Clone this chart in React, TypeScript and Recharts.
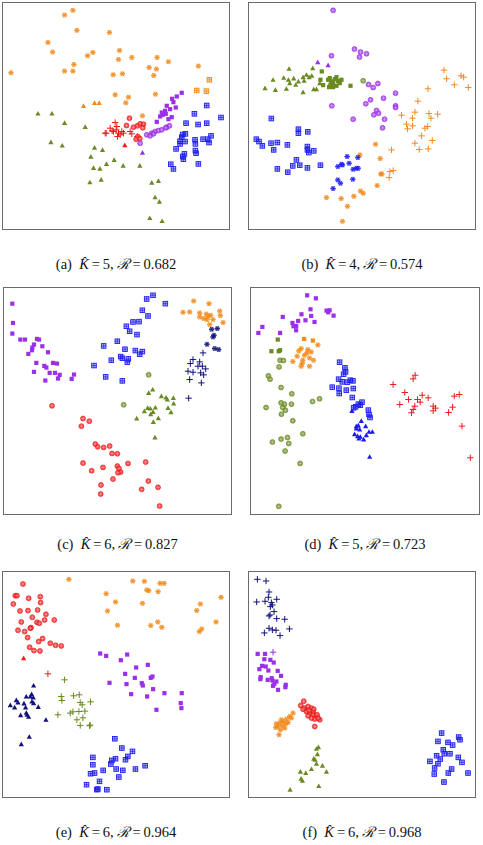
import React from 'react';
import { ScatterChart, Scatter, XAxis, YAxis } from 'recharts';

type P = [number, number];

const ORANGE = '#f28a1c';
const RED = '#ee1c1c';
const PURPLE = '#9b30e8';
const BLUE = '#1c1cf0';
const OLIVE = '#6a8a22';
const NAVY = '#12127a';

// ---------- panel (a) ----------
const aOrangeStar: P[] = [[218,32],[193,46],[230,92],[328,98],[143,128],[157,157],[262,168],[278,158],[358,152],[355,179],[395,173],[471,173],[505,186],[595,199],[221,194],[193,214],[218,214],[32,219],[339,225],[367,222],[447,203],[469,208],[461,227],[345,285],[385,292],[377,309],[466,283],[427,348]];
const aOrangeSq: P[] = [[628,240],[590,272],[619,274]];
const aOrangeTri: P[] = [[250,318],[283,309],[297,309]];
const aGreenTri: P[] = [[113,341],[155,341],[193,369],[255,381],[152,427],[186,437],[283,443],[307,450],[272,470],[319,492],[342,480],[369,497],[419,497],[280,504],[299,506],[269,547],[303,539],[455,548],[475,543],[465,592],[478,605],[449,654],[486,663]];
const aRedPlus: P[] = [[315,400],[330,385],[345,368],[350,380],[340,395],[355,400],[365,395],[352,410],[360,405],[370,400],[390,395],[395,402],[412,410],[318,400],[336,393],[348,390]];
const aRedCirc: P[] = [[388,355],[379,377],[400,382],[412,378],[420,372],[430,373],[428,384],[413,410],[408,418],[419,416]];
const aRedTri: P[] = [[374,436]];
const aPurpleSq: P[] = [[545,279],[530,290],[516,297],[520,307],[527,323],[500,318],[510,328],[495,333],[488,345],[480,350],[470,366],[515,352],[505,358],[497,342],[485,338]];
const aPurpleCirc: P[] = [[420,430],[440,405],[455,400],[465,395],[475,392],[485,390],[500,382],[508,378],[497,384],[450,408],[460,402]];
const aPurpleTri: P[] = [[427,458]];
const aBlueSq: P[] = [[620,317],[583,342],[663,353],[558,370],[594,374],[620,370],[548,404],[556,402],[545,412],[540,424],[555,425],[585,420],[586,432],[609,418],[623,418],[627,428],[633,408],[528,447],[553,462],[586,452],[588,460],[550,478],[548,470],[512,493],[520,507],[595,492],[540,432]];

// ---------- panel (b) ----------
const bPurpleCirc: P[] = [[270,32],[265,168],[334,148],[352,157],[349,172],[370,162],[376,254],[390,263],[404,251],[457,280],[421,295],[382,300],[368,312],[457,318],[457,323],[400,332],[392,345],[406,340],[424,358],[418,384],[330,358],[266,318]];
const bPurpleTri: P[] = [[224,187],[255,196]];
const bGreenTri: P[] = [[66,265],[90,240],[97,270],[130,267],[138,207],[122,234],[136,240],[140,250],[152,236],[158,255],[166,245],[180,232],[183,243],[190,225],[198,232],[209,205],[206,228],[212,268],[180,277],[220,268],[230,250]];
const bGreenSq: P[] = [[236,215],[232,240],[240,256],[255,240],[260,235],[265,245],[270,250],[275,238],[280,258],[285,244],[290,250],[295,240],[270,262],[258,262],[322,258],[280,232],[262,255]];
const bGreenCirc: P[] = [[360,243]];
const bOrangePlus: P[] = [[602,211],[610,237],[653,228],[661,232],[633,255],[675,263],[554,267],[524,304],[515,337],[475,346],[508,355],[557,341],[583,343],[563,355],[490,373],[493,387],[508,378],[545,385],[553,380],[535,408],[515,430],[567,422],[555,447],[528,449],[445,450],[450,512],[440,515],[438,533]];
const bOrangeStar: P[] = [[350,465],[397,433],[411,476],[413,522],[416,522],[402,557],[352,573],[360,580],[332,589],[250,593],[294,596],[313,619],[298,664]];
const bBlueSq: P[] = [[85,356],[166,388],[166,400],[194,396],[40,418],[48,425],[58,438],[84,430],[103,428],[92,450],[133,435],[193,440],[193,450],[197,458],[212,453],[160,480],[149,498],[170,496],[193,504],[232,496],[103,507],[134,517]];
const bBlueStar: P[] = [[312,470],[344,473],[318,490],[298,495],[284,500],[295,493],[330,508],[340,505],[345,505],[329,538],[284,540],[292,550],[270,566]];

// ---------- panel (c) ----------
const cPurpleSq: P[] = [[38,70],[40,128],[38,160],[62,178],[76,178],[103,193],[98,202],[112,176],[118,178],[128,198],[86,221],[97,210],[145,216],[110,248],[134,257],[140,262],[160,248],[172,250],[103,275],[150,278],[166,278],[180,284],[175,295],[137,301],[223,283],[216,296]];
const cBlueSq: P[] = [[460,45],[441,56],[497,70],[428,90],[445,107],[400,125],[418,124],[380,138],[390,153],[412,163],[353,183],[312,197],[376,207],[407,211],[428,214],[420,222],[363,229],[368,234],[386,236],[335,240],[383,246],[283,256],[318,290],[368,302]];
const cOrangeStar: P[] = [[582,62],[628,70],[550,96],[570,95],[600,98],[620,101],[625,108],[633,105],[660,92],[662,106],[612,115],[622,118],[640,118],[670,127],[630,133],[600,110]];
const cNavyStar: P[] = [[636,147],[653,145],[640,170],[643,165],[622,192],[645,205],[657,208]];
const cNavyPlus: P[] = [[610,218],[580,238],[600,245],[572,250],[595,258],[608,258],[618,266],[565,273],[580,276],[603,278],[612,284],[570,298],[605,308],[567,354]];
const cGreenTri: P[] = [[459,328],[447,338],[485,348],[499,352],[521,353],[503,358],[522,370],[505,383],[467,382],[444,383],[452,385],[434,393],[460,395],[514,396],[453,402],[476,414],[411,415],[461,425],[466,472]];
const cGreenCirc: P[] = [[447,284],[372,374]];
const cRedCirc: P[] = [[157,377],[250,415],[269,423],[245,438],[287,492],[294,500],[312,502],[330,498],[337,520],[353,521],[250,549],[276,572],[310,562],[353,558],[358,565],[363,576],[355,578],[385,550],[438,546],[340,597],[446,603],[304,615],[303,642],[426,628],[475,622],[480,678]];

// ---------- panel (d) ----------
const dPurpleSq: P[] = [[193,45],[219,54],[203,87],[251,91],[260,90],[256,96],[272,106],[176,102],[205,107],[120,110],[188,120],[215,125],[166,122],[149,128],[160,137],[152,138],[160,150],[59,140],[47,158],[112,158]];
const dGreenSq: P[] = [[105,178],[86,213],[108,213],[112,210]];
const dOrangeSq: P[] = [[184,176],[210,181]];
const dOrangeStar: P[] = [[175,205],[195,208],[225,194],[163,228],[150,244],[185,225],[200,233],[212,240],[178,250],[175,258],[200,258],[192,218],[168,212],[180,240],[205,215]];
const dGreenCirc: P[] = [[112,240],[122,241],[109,260],[77,287],[82,297],[115,322],[147,341],[115,368],[125,372],[146,372],[70,382],[120,382],[128,390],[116,402],[209,364],[230,356],[150,422],[180,461],[134,472],[115,477],[138,490],[89,486],[127,513],[172,550],[108,679]];
const dBlueSq: P[] = [[290,246],[306,263],[308,275],[302,282],[287,297],[298,305],[313,306],[322,300],[330,302],[268,321],[288,324],[310,330],[331,325],[289,340],[328,352],[357,366],[346,372],[338,380],[332,383],[376,390],[378,403],[381,412],[352,375]];
const dBlueTri: P[] = [[327,392],[355,422],[346,436],[368,438],[340,445],[350,448],[378,455],[388,455],[335,462],[344,468],[352,470],[362,478],[348,475],[370,465],[380,530],[340,438]];
const dRedPlus: P[] = [[516,285],[510,296],[450,313],[485,337],[496,358],[537,345],[523,358],[531,366],[555,353],[470,373],[515,378],[510,388],[505,398],[570,378],[577,384],[570,392],[633,348],[648,343],[628,381],[616,397],[656,438],[681,533]];

// ---------- panel (e) ----------
const eRedCirc: P[] = [[68,72],[45,107],[50,107],[85,115],[120,110],[39,132],[121,128],[59,153],[83,152],[112,150],[137,163],[96,172],[110,187],[117,190],[63,186],[133,180],[162,180],[92,203],[90,205],[53,211],[73,215],[82,233],[127,236],[115,245],[150,250],[166,256],[183,258],[88,262],[101,272],[119,273]];
const eRedTri: P[] = [[70,295]];
const eRedPlus: P[] = [[143,342]];
const eOrangeStar: P[] = [[206,58],[398,63],[433,64],[480,70],[492,70],[440,90],[446,92],[474,95],[318,101],[346,126],[427,130],[322,153],[352,196],[452,197],[473,186],[485,202],[663,112],[601,132],[590,152],[648,186],[605,207],[598,215]];
const ePurpleSq: P[] = [[300,281],[318,288],[381,284],[362,301],[408,323],[443,315],[375,342],[404,354],[452,354],[457,350],[328,369],[379,373],[425,370],[428,377],[459,388],[493,400],[545,400],[393,403],[441,410],[542,430],[544,445],[469,450]];
const eNavyTri: P[] = [[100,377],[94,403],[48,421],[78,410],[90,410],[99,413],[95,425],[100,430],[53,428],[71,431],[30,436],[43,443],[76,443],[114,441],[61,466],[80,465],[85,471],[78,459],[137,480],[87,531],[63,553]];
const eOlivePlus: P[] = [[193,360],[183,410],[185,422],[220,408],[237,405],[240,428],[246,435],[271,426],[173,465],[210,460],[218,456],[236,455],[254,454],[230,480],[248,474],[240,497],[268,498],[270,496]];
const eBlueSq: P[] = [[344,537],[365,565],[397,575],[383,590],[376,600],[346,597],[335,602],[332,613],[278,593],[278,615],[271,642],[283,640],[309,632],[348,628],[368,632],[406,628],[435,618],[356,652],[298,665],[259,675],[290,690],[293,688],[320,690]];

// ---------- panel (f) ----------
const fNavyPlus: P[] = [[43,58],[69,63],[78,96],[41,126],[66,124],[76,112],[101,118],[85,128],[88,135],[82,140],[93,155],[78,168],[81,165],[101,176],[125,178],[78,205],[88,210],[99,211],[64,219],[111,227],[139,207]];
const fPurplePlus: P[] = [[90,277]];
const fPurpleSq: P[] = [[44,282],[66,282],[64,298],[82,300],[92,308],[57,318],[68,320],[49,328],[76,332],[104,333],[114,348],[53,352],[52,358],[74,360],[86,355],[88,362],[100,365],[94,372],[128,375],[127,382],[105,390],[90,378]];
const fRedCirc: P[] = [[182,424],[173,437],[185,445],[195,440],[205,445],[190,455],[200,460],[210,465],[220,470],[230,480],[215,478],[205,475],[195,468],[210,455],[222,465],[215,500],[225,475],[180,448],[198,452],[212,448]];
const fOrangeStar: P[] = [[150,460],[140,470],[130,478],[120,485],[110,490],[100,492],[105,500],[118,498],[128,492],[112,510],[108,525],[98,503],[135,488],[125,505],[145,475],[115,480]];
const fOliveTri: P[] = [[226,562],[220,567],[223,583],[212,597],[216,600],[220,612],[238,618],[205,628],[188,640],[250,636],[172,636],[174,657],[178,663],[227,679],[141,690]];
const fBlueSq: P[] = [[595,520],[646,532],[650,540],[584,545],[614,548],[628,556],[600,570],[603,582],[620,582],[580,588],[591,598],[645,593],[560,605],[656,608],[584,612],[574,625],[625,628],[615,640],[573,643],[674,640],[602,667]];

// ---------- captions ----------
const captionLetters = ['a', 'b', 'c', 'd', 'e', 'f'];
const captionK = [5, 4, 6, 5, 6, 6];
const captionR = ['0.682', '0.574', '0.827', '0.723', '0.964', '0.968'];

type Kind = 'star' | 'sqgrid' | 'sq' | 'tri' | 'circ' | 'plus';
interface Series { data: P[]; color: string; kind: Kind }
interface Panel {
  left: number; top: number; w: number; h: number;
  xd: [number, number]; yd: [number, number];
  series: Series[];
}

const panels: Panel[] = [
  { left: 2, top: 2, w: 228, h: 228, xd: [5, 690], yd: [7, 690], series: [
    { data: aOrangeStar, color: ORANGE, kind: 'star' },
    { data: aOrangeSq, color: ORANGE, kind: 'sqgrid' },
    { data: aOrangeTri, color: ORANGE, kind: 'tri' },
    { data: aGreenTri, color: OLIVE, kind: 'tri' },
    { data: aRedPlus, color: RED, kind: 'plus' },
    { data: aRedCirc, color: RED, kind: 'circ' },
    { data: aRedTri, color: RED, kind: 'tri' },
    { data: aPurpleSq, color: PURPLE, kind: 'sq' },
    { data: aPurpleCirc, color: PURPLE, kind: 'circ' },
    { data: aPurpleTri, color: PURPLE, kind: 'tri' },
    { data: aBlueSq, color: BLUE, kind: 'sqgrid' },
  ] },
  { left: 248, top: 2, w: 228, h: 228, xd: [15, 698], yd: [7, 690], series: [
    { data: bPurpleCirc, color: PURPLE, kind: 'circ' },
    { data: bPurpleTri, color: PURPLE, kind: 'tri' },
    { data: bGreenTri, color: OLIVE, kind: 'tri' },
    { data: bGreenSq, color: OLIVE, kind: 'sq' },
    { data: bGreenCirc, color: OLIVE, kind: 'circ' },
    { data: bOrangePlus, color: ORANGE, kind: 'plus' },
    { data: bOrangeStar, color: ORANGE, kind: 'star' },
    { data: bBlueSq, color: BLUE, kind: 'sqgrid' },
    { data: bBlueStar, color: BLUE, kind: 'star' },
  ] },
  { left: 3, top: 287, w: 229, h: 228, xd: [10, 697], yd: [20, 705], series: [
    { data: cPurpleSq, color: PURPLE, kind: 'sq' },
    { data: cBlueSq, color: BLUE, kind: 'sqgrid' },
    { data: cOrangeStar, color: ORANGE, kind: 'star' },
    { data: cNavyStar, color: NAVY, kind: 'star' },
    { data: cNavyPlus, color: NAVY, kind: 'plus' },
    { data: cGreenTri, color: OLIVE, kind: 'tri' },
    { data: cGreenCirc, color: OLIVE, kind: 'circ' },
    { data: cRedCirc, color: RED, kind: 'circ' },
  ] },
  { left: 250, top: 287, w: 230, h: 228, xd: [22, 710], yd: [20, 705], series: [
    { data: dPurpleSq, color: PURPLE, kind: 'sq' },
    { data: dGreenSq, color: OLIVE, kind: 'sq' },
    { data: dOrangeSq, color: ORANGE, kind: 'sq' },
    { data: dOrangeStar, color: ORANGE, kind: 'star' },
    { data: dGreenCirc, color: OLIVE, kind: 'circ' },
    { data: dBlueSq, color: BLUE, kind: 'sqgrid' },
    { data: dBlueTri, color: BLUE, kind: 'tri' },
    { data: dRedPlus, color: RED, kind: 'plus' },
  ] },
  { left: 2, top: 571, w: 228, h: 227, xd: [5, 690], yd: [33, 715], series: [
    { data: eRedCirc, color: RED, kind: 'circ' },
    { data: eRedTri, color: RED, kind: 'tri' },
    { data: eRedPlus, color: RED, kind: 'plus' },
    { data: eOrangeStar, color: ORANGE, kind: 'star' },
    { data: ePurpleSq, color: PURPLE, kind: 'sq' },
    { data: eNavyTri, color: NAVY, kind: 'tri' },
    { data: eOlivePlus, color: OLIVE, kind: 'plus' },
    { data: eBlueSq, color: BLUE, kind: 'sqgrid' },
  ] },
  { left: 248, top: 571, w: 228, h: 227, xd: [15, 698], yd: [33, 715], series: [
    { data: fNavyPlus, color: NAVY, kind: 'plus' },
    { data: fPurplePlus, color: PURPLE, kind: 'plus' },
    { data: fPurpleSq, color: PURPLE, kind: 'sq' },
    { data: fRedCirc, color: RED, kind: 'circ' },
    { data: fOrangeStar, color: ORANGE, kind: 'star' },
    { data: fOliveTri, color: OLIVE, kind: 'tri' },
    { data: fBlueSq, color: BLUE, kind: 'sqgrid' },
  ] },
];

const captionTops = [264, 264, 544, 544, 832, 832];

function Marker(props: any) {
  const { cx, cy, kind, color } = props;
  if (cx == null || cy == null) return null;
  switch (kind as Kind) {
    case 'circ':
      return (
        <g>
          <circle cx={cx} cy={cy} r={2.5} fill={color} fillOpacity={0.8} stroke={color} strokeWidth={0.6} />
          <line x1={cx - 1.8} y1={cy} x2={cx + 1.8} y2={cy} stroke="#fff" strokeOpacity={0.5} strokeWidth={0.6} />
          <line x1={cx} y1={cy - 1.8} x2={cx} y2={cy + 1.8} stroke="#fff" strokeOpacity={0.5} strokeWidth={0.6} />
        </g>
      );
    case 'star': {
      const r = 2.7;
      const d = r * 0.87;
      return (
        <g>
          <circle cx={cx} cy={cy} r={2.5} fill={color} fillOpacity={0.55} />
          <line x1={cx - r} y1={cy} x2={cx + r} y2={cy} stroke={color} strokeWidth={0.8} />
          <line x1={cx - r / 2} y1={cy - d} x2={cx + r / 2} y2={cy + d} stroke={color} strokeWidth={0.8} />
          <line x1={cx + r / 2} y1={cy - d} x2={cx - r / 2} y2={cy + d} stroke={color} strokeWidth={0.8} />
        </g>
      );
    }
    case 'sqgrid': {
      const s = 2.3;
      return (
        <g>
          <rect x={cx - s} y={cy - s} width={2 * s} height={2 * s} fill={color} fillOpacity={0.35} stroke={color} strokeWidth={0.9} />
          <line x1={cx - s} y1={cy} x2={cx + s} y2={cy} stroke={color} strokeWidth={0.7} />
          <line x1={cx} y1={cy - s} x2={cx} y2={cy + s} stroke={color} strokeWidth={0.7} />
        </g>
      );
    }
    case 'sq': {
      const s = 2.1;
      return <rect x={cx - s} y={cy - s} width={2 * s} height={2 * s} fill={color} />;
    }
    case 'tri': {
      const s = 2.6;
      return <path d={`M${cx},${cy - s} L${cx + s},${cy + s * 0.8} L${cx - s},${cy + s * 0.8} Z`} fill={color} />;
    }
    case 'plus': {
      const s = 3.2;
      return (
        <g>
          <line x1={cx - s} y1={cy} x2={cx + s} y2={cy} stroke={color} strokeWidth={1} />
          <line x1={cx} y1={cy - s} x2={cx} y2={cy + s} stroke={color} strokeWidth={1} />
        </g>
      );
    }
  }
  return null;
}

function PanelChart({ p }: { p: Panel }) {
  return (
    <div style={{ position: 'absolute', left: p.left, top: p.top, width: p.w, height: p.h }}>
      <ScatterChart width={p.w} height={p.h} margin={{ top: 0, right: 0, bottom: 0, left: 0 }}>
        <XAxis type="number" dataKey="x" domain={p.xd} hide allowDataOverflow />
        <YAxis type="number" dataKey="y" domain={p.yd} hide reversed allowDataOverflow />
        {p.series.map((s, i) => (
          <Scatter
            key={i}
            data={s.data.map(([x, y]) => ({ x, y }))}
            isAnimationActive={false}
            shape={(props: any) => <Marker {...props} kind={s.kind} color={s.color} />}
          />
        ))}
      </ScatterChart>
      <div style={{ position: 'absolute', left: 0, top: 0, width: p.w, height: p.h, border: '1px solid #6a6a6a', boxSizing: 'border-box', pointerEvents: 'none' }} />
    </div>
  );
}

export default function App() {
  return (
    <div style={{ position: 'absolute', left: 0, top: 0, width: 483, height: 845, background: '#fff', fontFamily: '"Liberation Serif", "DejaVu Serif", serif' }}>
      {panels.map((p, i) => (
        <PanelChart key={i} p={p} />
      ))}
      {panels.map((p, i) => (
        <div
          key={'c' + i}
          style={{ position: 'absolute', left: p.left + p.w / 2 - 100, width: 200, top: captionTops[i] - 9, height: 18, textAlign: 'center', fontSize: 14.5, lineHeight: '18px', color: '#111', whiteSpace: 'nowrap' }}
        >
          ({captionLetters[i]})&nbsp;&nbsp;<i>K&#770;</i>&#8201;=&#8201;{captionK[i]},&#8201;<i>&#8475;</i>&#8201;=&#8201;{captionR[i]}
        </div>
      ))}
    </div>
  );
}
